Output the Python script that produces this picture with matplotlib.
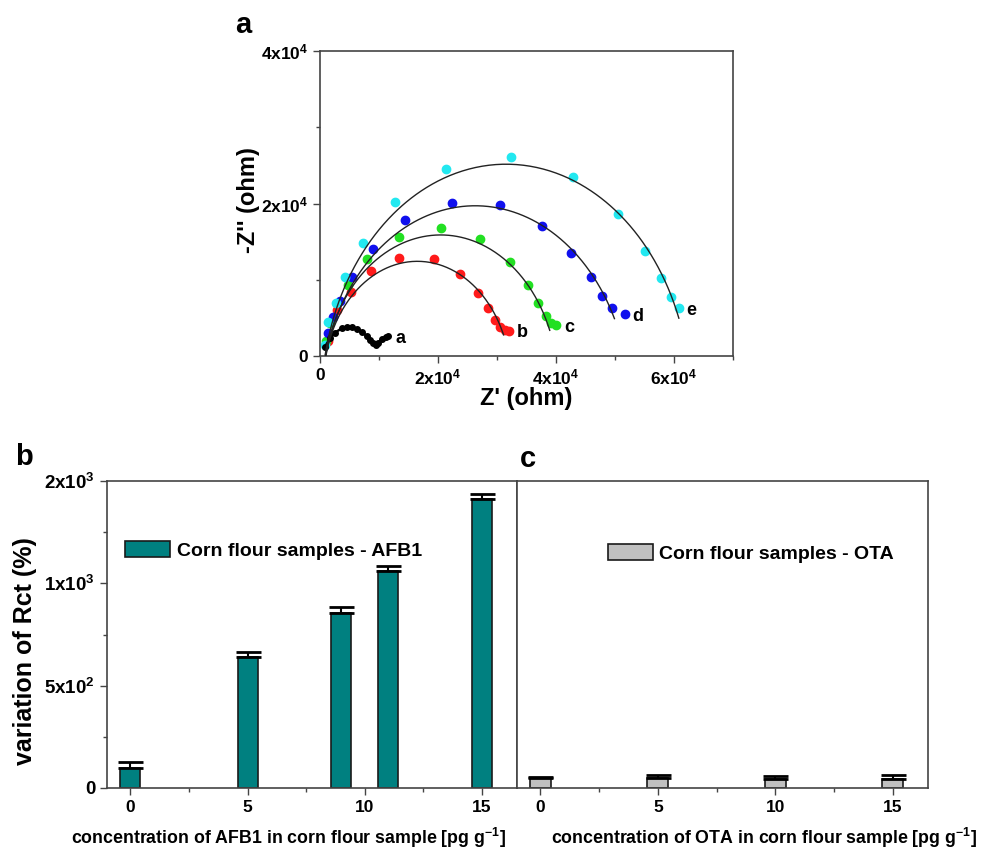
import numpy as np
import matplotlib
matplotlib.use('Agg')
import matplotlib.pyplot as plt
from matplotlib.ticker import FixedLocator, MultipleLocator, FuncFormatter

# Nyquist plots, Z' and -Z'' in ohm
a_re = [847, 1690, 2540, 3670, 4520, 5360, 6210, 7060, 7900, 8470, 9030, 9430, 9880, 10440, 11120, 11460]
a_im = [1220, 2310, 3060, 3620, 3760, 3760, 3490, 3190, 2620, 2100, 1660, 1440, 1750, 2180, 2530, 2660]

b_re = [1300, 2930, 5190, 8580, 13430, 19240, 23700, 26750, 28500, 29740, 30470, 31320, 32050]
b_im = [2000, 6030, 8430, 11180, 12890, 12710, 10750, 8300, 6250, 4720, 3840, 3410, 3320]

c_re = [1100, 1690, 4800, 7900, 13370, 20430, 27140, 32170, 35270, 36960, 38260, 39220, 40070]
c_im = [2000, 4370, 9260, 12670, 15640, 16730, 15330, 12320, 9260, 6900, 5240, 4370, 4060]

d_re = [1300, 2140, 3390, 5470, 8920, 14450, 22290, 30590, 37700, 42610, 45880, 47860, 49550, 51640]
d_im = [3000, 5160, 7250, 10400, 13980, 17820, 20050, 19790, 17040, 13460, 10400, 7860, 6330, 5500]

e_re = [850, 1410, 2710, 4230, 7220, 12640, 21330, 32450, 42890, 50510, 55020, 57730, 59430, 60780]
e_im = [1440, 4500, 6900, 10310, 14770, 20180, 24550, 26040, 23420, 18610, 13810, 10270, 7690, 6250]

# equivalent circuit fits: Rs, Rct, CPE exponent, -Z'' at lowest frequency
fit_rs = [1000, 950, 900, 850]
fit_rct = [31000, 39000, 50800, 61400]
fit_n = [0.86, 0.87, 0.84, 0.874]
fit_end = [2750, 3320, 4850, 4940]

# Rct variation for the corn flour samples
afb1_conc = [0, 5, 9, 11, 15]
afb1_rct = [100, 641, 854, 1061, 1412]
afb1_err = [25, 24, 28, 24, 25]

ota_conc = [0, 5, 10, 15]
ota_rct = [50, 49, 44, 44]
ota_err = [5, 13, 13, 21]

plt.rcParams['font.family'] = ['Liberation Sans', 'DejaVu Sans']
plt.rcParams['font.weight'] = 'bold'
plt.rcParams['mathtext.fontset'] = 'custom'
plt.rcParams['mathtext.rm'] = 'Liberation Sans:bold'
plt.rcParams['mathtext.it'] = 'Liberation Sans:bold'
plt.rcParams['mathtext.bf'] = 'Liberation Sans:bold'

W, H = 991, 851


def box(left, top, right, bottom):
    return [left / W, 1 - bottom / H, (right - left) / W, (bottom - top) / H]


def origin_fmt(v, pos):
    if v == 0:
        return '0'
    exp = int(np.floor(np.log10(abs(v))))
    mant = int(v / 10 ** exp + 0.5)
    return '%dx10$^{%d}$' % (mant, exp)


def zarc(rs, rct, n, z_end):
    wt = np.logspace(3, -3, 800)
    z = rs + rct / (1 + (1j * wt) ** n)
    keep = (wt >= 1) | (-z.imag >= z_end)
    return z.real[keep], -z.imag[keep]


def style_axes(ax, size):
    for s in ax.spines.values():
        s.set_color('#444444')
        s.set_linewidth(1.2)
    ax.tick_params(which='both', direction='out', color='#444444', width=1.0,
                   labelsize=size, top=False, right=False)
    ax.tick_params(which='major', length=5)
    ax.tick_params(which='minor', length=3)


fig = plt.figure(figsize=(W / 100, H / 100), dpi=100)

# panel a: Nyquist plots
ax = fig.add_axes(box(320, 51, 733, 356))
series = [(b_re, b_im, '#ff1a1a'), (c_re, c_im, '#22e022'),
          (d_re, d_im, '#1010ee'), (e_re, e_im, '#22e8f0')]
for re, im, col in series:
    ax.plot(re, im, 'o', color=col, markersize=6, zorder=2)
ax.plot(a_re, a_im, '-o', color='black', markersize=4, linewidth=1.8, zorder=3)
for rs, rct, n, z_end in zip(fit_rs, fit_rct, fit_n, fit_end):
    x, y = zarc(rs, rct, n, z_end)
    ax.plot(x, y, color='#222222', linewidth=1.0, zorder=4)
for name, re, im in [('a', a_re, a_im), ('b', b_re, b_im), ('c', c_re, c_im),
                     ('d', d_re, d_im), ('e', e_re, e_im)]:
    ax.text(re[-1] + 1300, im[-1] - 300, name, fontsize=13, fontweight='bold', va='center')
ax.set_xlim(0, 70000)
ax.set_ylim(0, 40000)
ax.xaxis.set_major_locator(FixedLocator([0, 20000, 40000, 60000]))
ax.xaxis.set_minor_locator(MultipleLocator(10000))
ax.yaxis.set_major_locator(FixedLocator([0, 20000, 40000]))
ax.yaxis.set_minor_locator(MultipleLocator(10000))
ax.xaxis.set_major_formatter(FuncFormatter(origin_fmt))
ax.yaxis.set_major_formatter(FuncFormatter(origin_fmt))
style_axes(ax, 12.5)
fig.text(526 / W, 1 - 398 / H, "Z' (ohm)", fontsize=17, fontweight='bold', ha='center', va='center')
fig.text(248 / W, 1 - 200 / H, "-Z'' (ohm)", fontsize=17, fontweight='bold', ha='center', va='center',
         rotation=90)

# panel b: AFB1
axb = fig.add_axes(box(107, 481, 517, 788))
axb.bar(afb1_conc, afb1_rct, width=0.85, color='#008080', edgecolor='#1a1a1a', linewidth=1.2,
        label='Corn flour samples - AFB1', zorder=2)
axb.errorbar(afb1_conc, afb1_rct, yerr=[[0] * len(afb1_err), afb1_err], fmt='none', ecolor='black',
             elinewidth=1.5, capsize=9, capthick=2, zorder=3)

# panel c: OTA
axc = fig.add_axes(box(517, 481, 928, 788))
axc.bar(ota_conc, ota_rct, width=0.9, color='#c0c0c0', edgecolor='#1a1a1a', linewidth=1.2,
        label='Corn flour samples - OTA', zorder=2)
axc.errorbar(ota_conc, ota_rct, yerr=[[0] * len(ota_err), ota_err], fmt='none', ecolor='black',
             elinewidth=1.5, capsize=9, capthick=2, zorder=3)

for axx in (axb, axc):
    axx.set_xlim(-1, 16.5)
    axx.set_ylim(0, 1500)
    axx.xaxis.set_major_locator(FixedLocator([0, 5, 10, 15]))
    axx.xaxis.set_minor_locator(FixedLocator([2.5, 7.5, 12.5]))
    style_axes(axx, 12.5)

axb.yaxis.set_major_locator(FixedLocator([0, 500, 1000, 1500]))
axb.yaxis.set_minor_locator(FixedLocator([250, 750, 1250]))
axb.yaxis.set_major_formatter(FuncFormatter(origin_fmt))
axb.tick_params(axis='y', labelsize=13.5)
axc.tick_params(axis='y', which='both', left=False, labelleft=False)

axb.legend(loc='center left', bbox_to_anchor=(0.044, 0.774), frameon=False, fontsize=14,
           handlelength=2.3, handleheight=0.9, borderpad=0, borderaxespad=0, handletextpad=0.35)
axc.legend(loc='center left', bbox_to_anchor=(0.221, 0.764), frameon=False, fontsize=14,
           handlelength=2.3, handleheight=0.9, borderpad=0, borderaxespad=0, handletextpad=0.35)

fig.text(25 / W, 1 - 651 / H, 'variation of Rct (%)', fontsize=18, fontweight='bold',
         ha='center', va='center', rotation=90)
fig.text(288 / W, 1 - 838 / H, 'concentration of AFB1 in corn flour sample [pg g$^{-1}$]',
         fontsize=12.8, fontweight='bold', ha='center', va='center')
fig.text(764 / W, 1 - 838 / H, 'concentration of OTA in corn flour sample [pg g$^{-1}$]',
         fontsize=12.8, fontweight='bold', ha='center', va='center')

fig.text(243 / W, 1 - 25 / H, 'a', fontsize=21, fontweight='bold', ha='center', va='center')
fig.text(24 / W, 1 - 457 / H, 'b', fontsize=21, fontweight='bold', ha='center', va='center')
fig.text(528 / W, 1 - 459 / H, 'c', fontsize=21, fontweight='bold', ha='center', va='center')

plt.savefig('out.png', dpi=100)
